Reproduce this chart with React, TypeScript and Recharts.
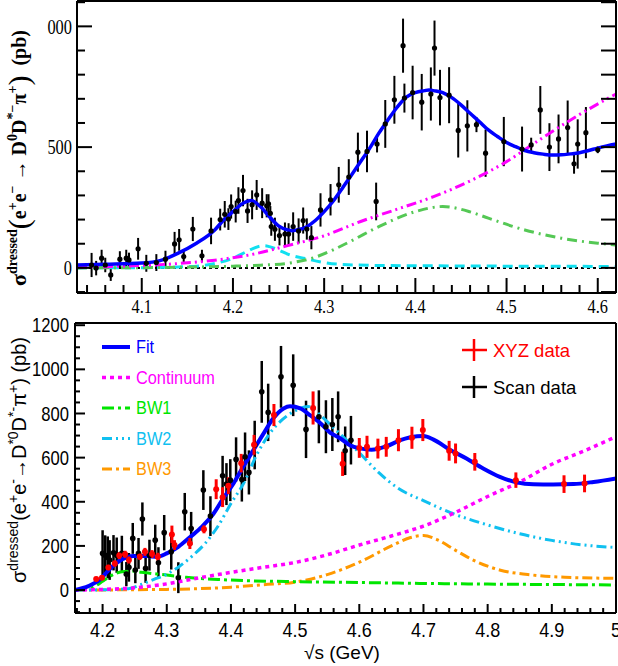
import React from "react";
import { ComposedChart, Line, Scatter, ErrorBar, XAxis, YAxis, ReferenceLine } from "recharts";

// ---------- top panel: e+e- -> D0 D*- pi+ ----------
const TOP_PT_X = [
  4.045, 4.05, 4.056, 4.06, 4.066, 4.076, 4.083, 4.086, 4.096, 4.105, 4.116, 4.126, 4.136, 4.141, 4.146,
  4.156, 4.166, 4.176, 4.186, 4.191, 4.195, 4.198, 4.203, 4.206, 4.211, 4.216, 4.221, 4.226, 4.232, 4.237,
  4.239, 4.241, 4.242, 4.246, 4.251, 4.257, 4.261, 4.266, 4.272, 4.277, 4.281, 4.286, 4.296, 4.307, 4.316,
  4.327, 4.337, 4.347, 4.357, 4.358, 4.367, 4.377, 4.3865, 4.388, 4.397, 4.407, 4.417, 4.421, 4.427, 4.437,
  4.447, 4.457, 4.467, 4.477, 4.497, 4.517, 4.527, 4.537, 4.547, 4.557, 4.567, 4.574, 4.578, 4.587, 4.6,
];
const TOP_PT_Y = [
  12, -1, 40, 12, -29, 36, 40, 33, 79, 19, 22, 36, 99, 116, 47,
  161, 50, 153, 200, 222, 202, 254, 233, 279, 320, 236, 261, 302, 268, 257,
  265, 226, 171, 160, 134, 140, 140, 171, 153, 196, 161, 125, 240, 282, 344,
  376, 479, 482, 275, 513, 596, 696, 920, 703, 726, 686, 720, 910, 705, 715,
  569, 588, 593, 475, 523, 492, 509, 654, 500, 534, 581, 431, 513, 560, 489,
];
const TOP_PT_ERR = [
  50, 30, 35, 30, 25, 33, 35, 30, 45, 35, 35, 35, 50, 45, 30,
  50, 25, 55, 45, 55, 45, 50, 45, 55, 65, 50, 60, 62, 62, 48,
  40, 30, 38, 48, 41, 48, 45, 59, 52, 54, 44, 48, 69, 65, 74,
  74, 81, 86, 78, 35, 99, 99, 112, 60, 111, 117, 110, 114, 115, 116,
  112, 106, 31, 98, 102, 93, 30, 99, 99, 101, 112, 41, 102, 106, 14,
];

const TOP_FIT_X = [
  4.029, 4.06, 4.1, 4.12, 4.14, 4.16, 4.18, 4.19, 4.2, 4.21, 4.22, 4.23, 4.24, 4.25, 4.26, 4.265, 4.27, 4.28,
  4.29, 4.3, 4.31, 4.32, 4.33, 4.34, 4.35, 4.36, 4.37, 4.38, 4.39, 4.4, 4.41, 4.415, 4.42, 4.43, 4.44, 4.45,
  4.46, 4.47, 4.48, 4.49, 4.5, 4.51, 4.52, 4.53, 4.54, 4.55, 4.56, 4.57, 4.58, 4.59, 4.6, 4.61, 4.62,
];
const TOP_FIT_Y = [
  12, 15, 20, 30, 61, 102, 157, 199, 233, 265, 279, 254, 212, 174, 157, 154, 157, 168,
  195, 233, 277, 330, 385, 440, 496, 558, 613, 665, 707, 726, 734, 737, 734, 726, 705, 675,
  640, 606, 571, 544, 519, 502, 486, 477, 471, 467, 468, 472, 477, 486, 496, 505, 513,
];
const TOP_CONT_X = [4.029, 4.06, 4.1, 4.14, 4.18, 4.22, 4.26, 4.3, 4.34, 4.38, 4.42, 4.46, 4.5, 4.54, 4.58, 4.62];
const TOP_CONT_Y = [2, 5, 10, 18, 32, 55, 92, 133, 192, 243, 295, 360, 440, 540, 635, 720];
const TOP_BWG_X = [4.029, 4.1, 4.15, 4.2, 4.23, 4.26, 4.29, 4.31, 4.33, 4.36, 4.4, 4.43, 4.46, 4.48, 4.52, 4.56, 4.6, 4.62];
const TOP_BWG_Y = [0, 1, 3, 7, 11, 19, 44, 75, 112, 171, 233, 254, 232, 206, 157, 123, 102, 95];
const TOP_BWC_X = [4.029, 4.1, 4.15, 4.18, 4.2, 4.21, 4.22, 4.23, 4.235, 4.24, 4.25, 4.26, 4.28, 4.3, 4.32, 4.36, 4.45, 4.62];
const TOP_BWC_Y = [0, 1, 5, 18, 40, 58, 77, 90, 92, 88, 74, 57, 38, 22, 14, 10, 8, 6];

const TOP_X_MAJOR = [4.1, 4.2, 4.3, 4.4, 4.5, 4.6];
const TOP_X_LABELS = ["4.1", "4.2", "4.3", "4.4", "4.5", "4.6"];
const TOP_Y_MAJOR = [0, 500, 1000];
const TOP_Y_LABELS = ["0", "500", "000"];

// ---------- bottom panel: e+e- -> D*0 D*- pi+ ----------
const XYZ_X = [
  4.19, 4.199, 4.209, 4.219, 4.226, 4.235, 4.241, 4.258, 4.266, 4.277, 4.286, 4.308, 4.312, 4.336, 4.358, 4.377,
  4.387, 4.396, 4.416, 4.436, 4.467, 4.528, 4.574, 4.6, 4.612, 4.629, 4.642, 4.661, 4.682, 4.699, 4.74, 4.75,
  4.78, 4.844, 4.919, 4.951,
];
const XYZ_Y = [
  50, 56, 102, 120, 156, 162, 136, 152, 173, 163, 151, 252, 204, 211, 275, 457,
  421, 473, 575, 658, 793, 825, 572, 644, 649, 641, 649, 679, 690, 725, 631, 619,
  581, 498, 480, 483,
];
const XYZ_ERR = [
  10, 10, 12, 14, 16, 16, 16, 16, 18, 18, 18, 40, 22, 25, 18, 45,
  45, 38, 42, 45, 50, 75, 55, 45, 50, 45, 45, 50, 50, 50, 45, 45,
  40, 35, 40, 40,
];
const SCAN_X = [
  4.2, 4.204, 4.208, 4.211, 4.217, 4.222, 4.23, 4.237, 4.241, 4.247, 4.251, 4.256, 4.262, 4.267, 4.273,
  4.282, 4.287, 4.296, 4.307, 4.318, 4.328, 4.338, 4.357, 4.368, 4.387, 4.393, 4.399, 4.408, 4.417, 4.422,
  4.428, 4.437, 4.448, 4.458, 4.478, 4.497, 4.517, 4.537, 4.548, 4.558, 4.567, 4.578, 4.587,
];
const SCAN_Y = [
  166, 158, 148, 136, 169, 158, 166, 72, 103, 234, 91, 166, 322, 98, 158,
  226, 124, 260, 173, 56, 355, 279, 453, 335, 518, 480, 498, 592, 501, 604,
  533, 657, 898, 805, 966, 928, 728, 785, 740, 750, 785, 631, 679,
];
const SCAN_ERR = [
  105, 90, 95, 90, 80, 80, 80, 55, 65, 70, 60, 70, 75, 65, 70,
  70, 70, 80, 80, 70, 85, 75, 90, 90, 90, 95, 95, 100, 100, 110,
  100, 110, 140, 130, 140, 140, 130, 120, 120, 120, 115, 110, 110,
];

const BOT_FIT_X = [
  4.157, 4.178, 4.196, 4.212, 4.23, 4.248, 4.269, 4.285, 4.3, 4.318, 4.336, 4.355, 4.373, 4.388, 4.404,
  4.419, 4.435, 4.451, 4.466, 4.482, 4.492, 4.508, 4.523, 4.539, 4.555, 4.57, 4.586, 4.601, 4.619, 4.643,
  4.664, 4.69, 4.7, 4.715, 4.741, 4.767, 4.793, 4.819, 4.845, 4.871, 4.902, 4.934, 4.965, 5.0,
];
const BOT_FIT_Y = [
  0, 18, 48, 98, 139, 154, 154, 151, 166, 196, 239, 287, 347, 415, 483,
  558, 634, 710, 778, 823, 833, 823, 793, 757, 712, 688, 655, 642, 636, 652,
  679, 697, 698, 683, 636, 596, 551, 513, 488, 479, 478, 480, 490, 506,
];
const BOT_CONT_X = [4.157, 4.2, 4.25, 4.3, 4.35, 4.4, 4.45, 4.5, 4.55, 4.6, 4.65, 4.7, 4.75, 4.8, 4.85, 4.9, 4.95, 5.0];
const BOT_CONT_Y = [0, 3, 10, 28, 55, 80, 103, 125, 160, 204, 245, 290, 352, 424, 490, 570, 630, 695];
const BW1_X = [4.157, 4.17, 4.18, 4.19, 4.2, 4.21, 4.22, 4.23, 4.245, 4.26, 4.28, 4.3, 4.33, 4.38, 4.43, 4.5, 4.6, 4.7, 4.8, 4.9, 5.0];
const BW1_Y = [0, 2, 6, 20, 40, 60, 75, 83, 86, 81, 74, 68, 58, 48, 42, 38, 34, 30, 27, 25, 23];
const BW2_X = [
  4.157, 4.2, 4.24, 4.26, 4.28, 4.3, 4.32, 4.34, 4.36, 4.38, 4.4, 4.42, 4.44, 4.46, 4.48,
  4.5, 4.52, 4.54, 4.56, 4.58, 4.6, 4.63, 4.66, 4.7, 4.75, 4.8, 4.85, 4.9, 4.95, 5.0,
];
const BW2_Y = [
  0, 1, 6, 25, 48, 72, 108, 155, 212, 290, 392, 485, 612, 708, 772,
  812, 832, 790, 735, 680, 622, 533, 462, 405, 342, 295, 255, 225, 204, 193,
];
const BW3_X = [4.157, 4.3, 4.4, 4.45, 4.5, 4.55, 4.6, 4.65, 4.68, 4.7, 4.72, 4.75, 4.78, 4.82, 4.87, 4.92, 5.0];
const BW3_Y = [0, 3, 13, 24, 36, 70, 126, 200, 238, 247, 230, 180, 132, 90, 68, 58, 53];

const BOT_X_MAJOR = [4.2, 4.3, 4.4, 4.5, 4.6, 4.7, 4.8, 4.9, 5.0];
const BOT_X_LABELS = ["4.2", "4.3", "4.4", "4.5", "4.6", "4.7", "4.8", "4.9", "5"];
const BOT_Y_MAJOR = [0, 200, 400, 600, 800, 1000, 1200];
const BOT_Y_LABELS = ["0", "200", "400", "600", "800", "1000", "1200"];

const BLUE = "#0000ff";
const MAGENTA = "#ff00ff";
const SERIF = "'Liberation Serif', 'Times New Roman', serif";
const SANS = "'Liberation Sans', Arial, sans-serif";

const xy = (xs: number[], ys: number[]) => xs.map((x, i) => ({ x, y: ys[i] }));
const xye = (xs: number[], ys: number[], es: number[]) => xs.map((x, i) => ({ x, y: ys[i], e: es[i] }));
const steps = (a: number, b: number, s: number) => {
  const out: number[] = [];
  for (let v = a; v <= b + s / 10; v += s) out.push(Math.round(v * 1000) / 1000);
  return out;
};

type TickOpts = {
  side: "bottom" | "top" | "left" | "right";
  major: number[];
  labels?: string[];
  long: number;
  short: number;
  font?: string;
  size?: number;
  squeeze?: number;
  offset?: number;
};

function axisTick(o: TickOpts) {
  return (p: any) => {
    const v = p.payload.value;
    const k = o.major.findIndex((m) => Math.abs(m - v) < 1e-6);
    const len = k >= 0 ? o.long : o.short;
    const { x, y } = p;
    let line;
    if (o.side === "bottom") line = <line x1={x} x2={x} y1={y} y2={y - len} />;
    else if (o.side === "top") line = <line x1={x} x2={x} y1={y} y2={y + len} />;
    else if (o.side === "left") line = <line x1={x} x2={x + len} y1={y} y2={y} />;
    else line = <line x1={x} x2={x - len} y1={y} y2={y} />;
    let label = null;
    if (o.labels && k >= 0) {
      const sq = o.squeeze ?? 1;
      if (o.side === "bottom") {
        label = (
          <text transform={`translate(${x},${y + (o.offset ?? 20)}) scale(${sq},1)`} textAnchor="middle"
            fontFamily={o.font} fontSize={o.size} fill="#000">{o.labels[k]}</text>
        );
      } else {
        label = (
          <text transform={`translate(${x - (o.offset ?? 5)},${y}) scale(${sq},1)`} textAnchor="end"
            dominantBaseline="central" fontFamily={o.font} fontSize={o.size} fill="#000">{o.labels[k]}</text>
        );
      }
    }
    return (
      <g>
        <g stroke="#000" strokeWidth={2}>{line}</g>
        {label}
      </g>
    );
  };
}

const frame = { stroke: "#000", strokeWidth: 2 };

function TopPanel() {
  const xDom: [number, number] = [4.029, 4.62];
  const yDom: [number, number] = [-104, 1105];
  const xt = steps(4.04, 4.62, 0.02);
  const yt = steps(-100, 1100, 100);
  const dot = (p: any) => <circle cx={p.cx} cy={p.cy} r={2.6} fill="#000" />;
  return (
    <ComposedChart width={618} height={320} margin={{ top: 0, right: 1, bottom: 26, left: 76 }}>
      <XAxis type="number" dataKey="x" domain={xDom} allowDataOverflow ticks={xt} interval={0} height={1}
        tickSize={0} tickMargin={0} tickLine={false} axisLine={frame}
        tick={axisTick({ side: "bottom", major: TOP_X_MAJOR, labels: TOP_X_LABELS, long: 15, short: 8, font: SERIF, size: 19, squeeze: 0.86, offset: 20 })} />
      <XAxis xAxisId="top" orientation="top" type="number" domain={xDom} allowDataOverflow ticks={xt} interval={0}
        height={1} tickSize={0} tickMargin={0} tickLine={false} axisLine={frame}
        tick={axisTick({ side: "top", major: TOP_X_MAJOR, long: 15, short: 8 })} />
      <YAxis type="number" dataKey="y" domain={yDom} allowDataOverflow ticks={yt} interval={0} width={1}
        tickSize={0} tickMargin={0} tickLine={false} axisLine={frame}
        tick={axisTick({ side: "left", major: TOP_Y_MAJOR, labels: TOP_Y_LABELS, long: 15, short: 8, font: SERIF, size: 21, squeeze: 0.78, offset: 5 })} />
      <YAxis yAxisId="right" orientation="right" type="number" domain={yDom} allowDataOverflow ticks={yt} interval={0}
        width={1} tickSize={0} tickMargin={0} tickLine={false} axisLine={frame}
        tick={axisTick({ side: "right", major: yt, long: 15, short: 15 })} />
      <ReferenceLine y={0} stroke="#000" strokeWidth={2} strokeDasharray="3 3" />
      <Scatter data={xye(TOP_PT_X, TOP_PT_Y, TOP_PT_ERR)} dataKey="y" shape={dot} isAnimationActive={false}>
        <ErrorBar dataKey="e" direction="y" width={0} stroke="#000" strokeWidth={2} />
      </Scatter>
      <Line data={xy(TOP_BWC_X, TOP_BWC_Y)} dataKey="y" type="monotone" stroke="#11e0f0" strokeWidth={3}
        strokeDasharray="10 6" dot={false} isAnimationActive={false} />
      <Line data={xy(TOP_BWG_X, TOP_BWG_Y)} dataKey="y" type="monotone" stroke="#55c855" strokeWidth={3}
        strokeDasharray="10 5 2 5" dot={false} isAnimationActive={false} />
      <Line data={xy(TOP_CONT_X, TOP_CONT_Y)} dataKey="y" type="monotone" stroke={MAGENTA} strokeWidth={3}
        strokeDasharray="10 4 2 4 2 4" dot={false} isAnimationActive={false} />
      <Line data={xy(TOP_FIT_X, TOP_FIT_Y)} dataKey="y" type="monotone" stroke={BLUE} strokeWidth={3.5}
        dot={false} isAnimationActive={false} />
    </ComposedChart>
  );
}

function BottomPanel() {
  const xDom: [number, number] = [4.157, 5.0];
  const yDom: [number, number] = [-104, 1210];
  const xt = steps(4.16, 5.0, 0.02);
  const yt = steps(-100, 1200, 50);
  const blackDot = (p: any) => <circle cx={p.cx} cy={p.cy} r={2.8} fill="#000" />;
  const redDot = (p: any) => <circle cx={p.cx} cy={p.cy} r={3} fill="#ff0000" />;
  return (
    <ComposedChart width={618} height={356} margin={{ top: 12, right: 1, bottom: 52, left: 74 }}>
      <XAxis type="number" dataKey="x" domain={xDom} allowDataOverflow ticks={xt} interval={0} height={1}
        tickSize={0} tickMargin={0} tickLine={false} axisLine={frame}
        tick={axisTick({ side: "bottom", major: BOT_X_MAJOR, labels: BOT_X_LABELS, long: 9, short: 5, font: SANS, size: 20, squeeze: 0.9, offset: 24 })} />
      <XAxis xAxisId="top" orientation="top" type="number" domain={xDom} allowDataOverflow ticks={[]} height={1}
        tick={false} tickLine={false} axisLine={frame} />
      <YAxis type="number" dataKey="y" domain={yDom} allowDataOverflow ticks={yt} interval={0} width={1}
        tickSize={0} tickMargin={0} tickLine={false} axisLine={frame}
        tick={axisTick({ side: "left", major: BOT_Y_MAJOR, labels: BOT_Y_LABELS, long: 10, short: 5, font: SANS, size: 20, squeeze: 0.83, offset: 6 })} />
      <YAxis yAxisId="right" orientation="right" type="number" domain={yDom} allowDataOverflow ticks={[]} width={1}
        tick={false} tickLine={false} axisLine={frame} />
      <Scatter data={xye(SCAN_X, SCAN_Y, SCAN_ERR)} dataKey="y" shape={blackDot} isAnimationActive={false}>
        <ErrorBar dataKey="e" direction="y" width={0} stroke="#000" strokeWidth={2.5} />
      </Scatter>
      <Line data={xy(BW3_X, BW3_Y)} dataKey="y" type="monotone" stroke="#ff9900" strokeWidth={3}
        strokeDasharray="10 4 3 4" dot={false} isAnimationActive={false} />
      <Line data={xy(BW1_X, BW1_Y)} dataKey="y" type="monotone" stroke="#00e600" strokeWidth={3}
        strokeDasharray="12 4 3 4" dot={false} isAnimationActive={false} />
      <Line data={xy(BW2_X, BW2_Y)} dataKey="y" type="monotone" stroke="#10c0f0" strokeWidth={3}
        strokeDasharray="10 4 2 4 2 4" dot={false} isAnimationActive={false} />
      <Line data={xy(BOT_CONT_X, BOT_CONT_Y)} dataKey="y" type="monotone" stroke={MAGENTA} strokeWidth={3.5}
        strokeDasharray="4 4" dot={false} isAnimationActive={false} />
      <Line data={xy(BOT_FIT_X, BOT_FIT_Y)} dataKey="y" type="monotone" stroke={BLUE} strokeWidth={4}
        dot={false} isAnimationActive={false} />
      <Scatter data={xye(XYZ_X, XYZ_Y, XYZ_ERR)} dataKey="y" shape={redDot} isAnimationActive={false}>
        <ErrorBar dataKey="e" direction="y" width={0} stroke="#ff0000" strokeWidth={3} />
      </Scatter>
    </ComposedChart>
  );
}

type Seg = { t: string; sup?: boolean; size?: number; shift?: number; weight?: string };

function Rich({ segs, base, supSize, supShift }: { segs: Seg[]; base: number; supSize: number; supShift: number }) {
  let cur = 0;
  return (
    <>
      {segs.map((s, i) => {
        const shift = s.sup ? -supShift : s.shift ?? 0;
        const dy = shift - cur;
        cur = shift;
        return (
          <tspan key={i} dy={dy} fontSize={s.size ?? (s.sup ? supSize : base)} fontWeight={s.weight}>
            {s.t}
          </tspan>
        );
      })}
    </>
  );
}

const TOP_TITLE: Seg[] = [
  { t: "σ", size: 22 },
  { t: "dressed", sup: true },
  { t: "(", size: 30, shift: 3, weight: "normal" },
  { t: "e" },
  { t: "+", sup: true },
  { t: "e" },
  { t: "−", sup: true },
  { t: "\u00a0→\u00a0D" },
  { t: "0", sup: true },
  { t: "D" },
  { t: "*−", sup: true },
  { t: "π" },
  { t: "+", sup: true },
  { t: ")", size: 30, shift: 3, weight: "normal" },
  { t: "\u00a0\u00a0(pb)" },
];

const BOT_TITLE: Seg[] = [
  { t: "σ" },
  { t: "dressed", sup: true },
  { t: "(e" },
  { t: "+", sup: true },
  { t: "e" },
  { t: "-", sup: true },
  { t: "→D" },
  { t: "*0", sup: true },
  { t: "D" },
  { t: "*-", sup: true },
  { t: "π" },
  { t: "+", sup: true },
  { t: ")\u00a0(pb)" },
];

const LEGEND_LEFT = [
  { label: "Fit", color: BLUE, dash: undefined as string | undefined, width: 4 },
  { label: "Continuum", color: MAGENTA, dash: "4 4", width: 3.5 },
  { label: "BW1", color: "#00e600", dash: "12 4 3 4", width: 3 },
  { label: "BW2", color: "#10c0f0", dash: "10 4 2 4 2 4", width: 3 },
  { label: "BW3", color: "#ff9900", dash: "10 4 3 4", width: 3 },
];
const LEGEND_RIGHT = [
  { label: "XYZ data", color: "#ff0000" },
  { label: "Scan data", color: "#000000" },
];

function Overlay() {
  return (
    <svg width={618} height={666} style={{ position: "absolute", left: 0, top: 0, pointerEvents: "none" }}>
      <text transform="translate(26,158) rotate(-90)" textAnchor="middle" fontFamily={SERIF} fontWeight="bold" fill="#000">
        <Rich segs={TOP_TITLE} base={20} supSize={14} supShift={9} />
      </text>
      <text transform="translate(26,460) rotate(-90)" textAnchor="middle" fontFamily={SANS} fill="#000">
        <Rich segs={BOT_TITLE} base={20} supSize={14} supShift={8} />
      </text>
      <text x={304} y={659} fontFamily={SANS} fontSize={19} fill="#000">√s (GeV)</text>
      {LEGEND_LEFT.map((l, i) => {
        const y = 347 + i * 30.5;
        return (
          <g key={l.label}>
            <line x1={102} x2={130} y1={y} y2={y} stroke={l.color} strokeWidth={l.width} strokeDasharray={l.dash} />
            <text transform={`translate(136,${y}) scale(0.86,1)`} dominantBaseline="central" fontFamily={SANS}
              fontSize={19} fill={l.color}>{l.label}</text>
          </g>
        );
      })}
      {LEGEND_RIGHT.map((l, i) => {
        const y = 350 + i * 37;
        return (
          <g key={l.label}>
            <line x1={462} x2={487} y1={y} y2={y} stroke={l.color} strokeWidth={2.5} />
            <line x1={474} x2={474} y1={y - 11} y2={y + 11} stroke={l.color} strokeWidth={2.5} />
            <text x={493} y={y} dominantBaseline="central" fontFamily={SANS} fontSize={18.5} fill={l.color}>{l.label}</text>
          </g>
        );
      })}
    </svg>
  );
}

export default function App() {
  return (
    <div style={{ position: "absolute", left: 0, top: 0, width: 618, height: 666, background: "#fff", overflow: "hidden" }}>
      <div style={{ position: "absolute", left: 0, top: 0 }}>
        <TopPanel />
      </div>
      <div style={{ position: "absolute", left: 0, top: 310 }}>
        <BottomPanel />
      </div>
      <Overlay />
    </div>
  );
}
